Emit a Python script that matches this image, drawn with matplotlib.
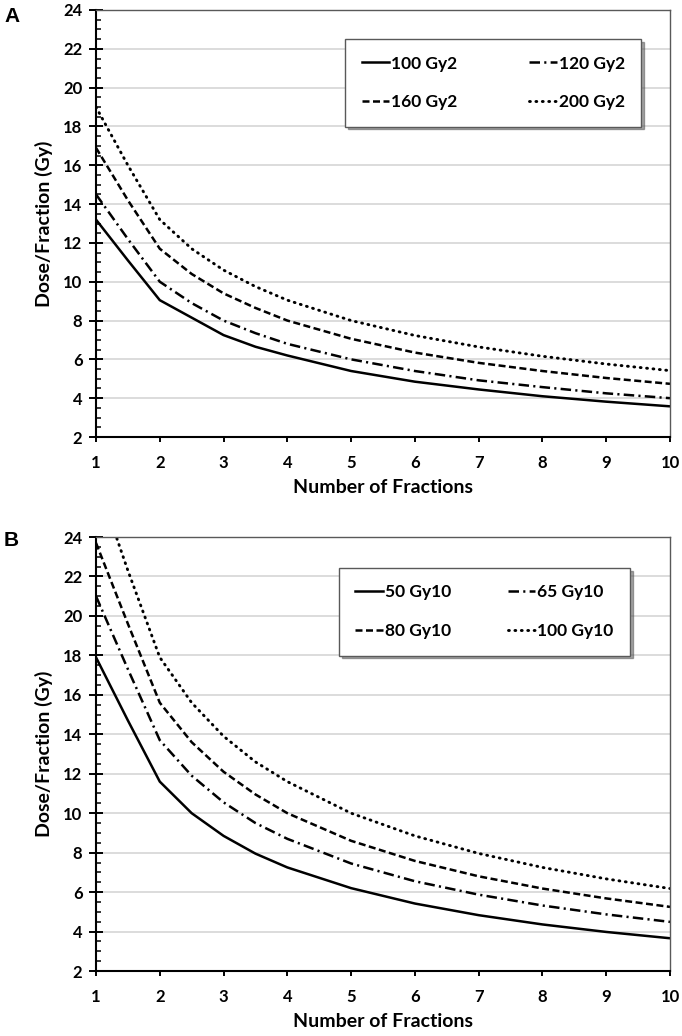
import matplotlib
matplotlib.use("Agg")
import matplotlib.pyplot as plt
from matplotlib.ticker import MultipleLocator

plt.rcParams['font.family'] = ['Lato', 'DejaVu Sans']

fractions = [1, 1.5, 2, 2.5, 3, 3.5, 4, 5, 6, 7, 8, 9, 10]

# Panel A (Gy2)
labels_a = ["100 Gy2", "120 Gy2", "160 Gy2", "200 Gy2"]
a_100 = [13.2, 11.1, 9.05, 8.15, 7.25, 6.65, 6.2, 5.4, 4.85, 4.45, 4.1, 3.82, 3.58]
a_120 = [14.5, 12.2, 10.0, 8.9, 8.0, 7.35, 6.8, 6.0, 5.4, 4.92, 4.57, 4.25, 4.0]
a_160 = [16.9, 14.2, 11.7, 10.4, 9.4, 8.65, 8.0, 7.06, 6.35, 5.82, 5.4, 5.04, 4.74]
a_200 = [19.0, 16.0, 13.2, 11.7, 10.6, 9.75, 9.05, 8.0, 7.23, 6.64, 6.16, 5.76, 5.42]

# Panel B (Gy10)
labels_b = ["50 Gy10", "65 Gy10", "80 Gy10", "100 Gy10"]
b_50 = [17.9, 14.7, 11.6, 10.0, 8.85, 7.95, 7.25, 6.2, 5.42, 4.83, 4.36, 3.98, 3.66]
b_65 = [21.0, 17.3, 13.7, 11.9, 10.55, 9.5, 8.7, 7.45, 6.55, 5.87, 5.32, 4.87, 4.49]
b_80 = [23.7, 19.6, 15.6, 13.6, 12.1, 10.95, 10.0, 8.6, 7.58, 6.8, 6.18, 5.68, 5.25]
b_100 = [27.0, 22.3, 17.9, 15.6, 13.9, 12.6, 11.6, 10.0, 8.85, 7.96, 7.25, 6.67, 6.18]

x_ticks = list(range(1, 11))
y_ticks = list(range(2, 25, 2))

styles = [
    dict(linestyle='-', lw=1.8),
    dict(linestyle=(0, (4.2, 1.7, 0.85, 1.7)), lw=1.8),
    dict(linestyle=(0, (2.8, 1.4)), lw=1.8),
    dict(linestyle=(0, (0.3, 1.9)), lw=2.1, dash_capstyle='round'),
]

W, H = 682, 1036
fig = plt.figure(figsize=(W / 100, H / 100), dpi=100)


def make_panel(rect, series, labels, letter, letter_y, legend_anchor):
    ax = fig.add_axes(rect)
    lines = []
    for ys, lab, st in zip(series, labels, styles):
        ln, = ax.plot(fractions, ys, color='black', label=lab, **st)
        lines.append(ln)
    ax.set_xlim(1, 10)
    ax.set_ylim(2, 24)
    ax.set_xticks(x_ticks)
    ax.set_yticks(y_ticks)
    ax.yaxis.set_minor_locator(MultipleLocator(0.5))
    ax.grid(axis='y', which='major', color='#d9d9d9', lw=1.3)
    ax.set_axisbelow(True)
    for s in ['top', 'right']:
        ax.spines[s].set_color('#595959')
        ax.spines[s].set_linewidth(1.0)
    for s in ['left', 'bottom']:
        ax.spines[s].set_color('black')
        ax.spines[s].set_linewidth(1.5)
    ax.tick_params(axis='y', which='major', direction='inout', length=9.5, width=1.4,
                   labelsize=12, pad=5)
    ax.tick_params(axis='y', which='minor', direction='in', length=3.5, width=1.1)
    ax.tick_params(axis='x', which='major', direction='out', length=3.8, width=1.4,
                   labelsize=12, pad=9)
    for t in ax.get_xticklabels() + ax.get_yticklabels():
        t.set_fontweight('bold')
    ax.set_xlabel("Number of Fractions", fontsize=14, fontweight='bold', labelpad=6)
    ax.set_ylabel("Dose/Fraction (Gy)", fontsize=14, fontweight='bold', labelpad=7)
    order = [0, 2, 1, 3]
    leg = ax.legend([lines[i] for i in order], [labels[i] for i in order],
                    ncol=2, loc='upper left', bbox_to_anchor=legend_anchor,
                    mode='expand', frameon=True, fancybox=False, shadow=True,
                    prop=dict(size=12.5, weight='bold'), handlelength=1.6,
                    handletextpad=0.1, columnspacing=2.0, borderpad=0.95,
                    labelspacing=1.3, borderaxespad=0)
    leg.get_frame().set_edgecolor('#595959')
    leg.get_frame().set_linewidth(1.0)
    fig.text(4 / W, 1 - letter_y / H, letter, fontsize=15, fontweight='bold',
             family='Liberation Sans', ha='left', va='center')
    return ax


def rect(left, top, right, bottom):
    return [left / W, 1 - bottom / H, (right - left) / W, (bottom - top) / H]


make_panel(rect(96, 10, 670, 437), [a_100, a_120, a_160, a_200], labels_a, "A", 16,
           (0.434, 0.932, 0.516, 0))
make_panel(rect(96, 537, 670, 971), [b_50, b_65, b_80, b_100], labels_b, "B", 540,
           (0.423, 0.9286, 0.507, 0))

fig.savefig("out.png", dpi=100, facecolor='white')
